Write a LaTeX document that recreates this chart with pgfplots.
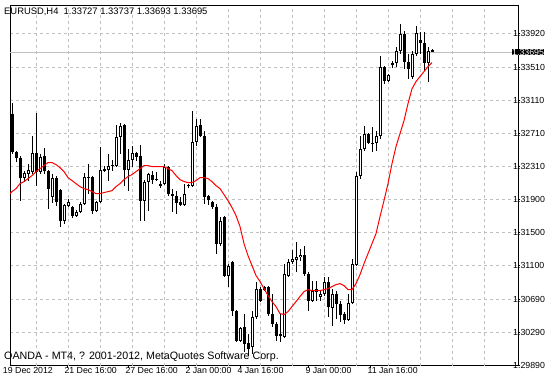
\documentclass[border=0pt]{standalone}
\usepackage{fontspec}
\setmainfont{Liberation Sans}
\usepackage{pgfplots}
\pgfplotsset{compat=1.18}
\usepackage{pgfplotstable}
\definecolor{gridgray}{RGB}{192,192,192}
\newcommand{\axisfont}{\fontsize{8.8bp}{10bp}\selectfont}
\pgfplotstableread{
x o h l c
0 1.32498 1.32571 1.32243 1.32316
1 1.32377 1.33008 1.32365 1.32948
2 1.32948 1.33082 1.32462 1.32486
3 1.32486 1.32498 1.32365 1.32413
4 1.32413 1.32438 1.31891 1.32170
5 1.32170 1.32255 1.32122 1.32231
6 1.32219 1.32340 1.32134 1.32267
7 1.32243 1.32681 1.32219 1.32474
8 1.32474 1.32960 1.32073 1.32243
9 1.32243 1.32462 1.32219 1.32426
10 1.32438 1.32534 1.32219 1.32255
11 1.32255 1.32267 1.31793 1.32036
12 1.31940 1.32219 1.31867 1.32170
13 1.32170 1.32195 1.31830 1.31879
14 1.32024 1.32036 1.31575 1.31648
15 1.31648 1.31854 1.31611 1.31842
16 1.31830 1.31915 1.31818 1.31879
17 1.31818 1.31830 1.31684 1.31709
18 1.31709 1.31781 1.31697 1.31757
19 1.31757 1.31879 1.31745 1.31854
20 1.31854 1.32231 1.31842 1.32183
21 1.32170 1.32340 1.31976 1.32183
22 1.32183 1.32195 1.31733 1.31769
23 1.31769 1.31891 1.31757 1.31879
24 1.31879 1.32547 1.31867 1.32267
25 1.32255 1.32316 1.32243 1.32279
26 1.32267 1.32462 1.32134 1.32316
27 1.32316 1.32389 1.32255 1.32328
28 1.32316 1.32814 1.32304 1.32669
29 1.32669 1.32839 1.32462 1.32802
30 1.32814 1.32826 1.32073 1.32267
31 1.32267 1.32522 1.32012 1.32389
32 1.32389 1.32559 1.32304 1.32474
33 1.32474 1.32486 1.32377 1.32426
34 1.32438 1.32571 1.31648 1.31891
35 1.31891 1.32146 1.31648 1.32122
36 1.32122 1.32231 1.31769 1.32219
37 1.32207 1.32255 1.32097 1.32146
38 1.32158 1.32243 1.32134 1.32146
39 1.32073 1.32134 1.32049 1.32097
40 1.32097 1.32340 1.32085 1.32304
41 1.32304 1.32316 1.31952 1.31976
42 1.31976 1.32036 1.31757 1.31952
43 1.31952 1.32012 1.31733 1.31867
44 1.31879 1.31940 1.31830 1.31842
45 1.31842 1.32097 1.31830 1.31976
46 1.32085 1.32097 1.32049 1.32073
47 1.32073 1.32984 1.32061 1.32608
48 1.32608 1.32887 1.32559 1.32802
49 1.32814 1.32887 1.32669 1.32681
50 1.32681 1.32741 1.31854 1.31940
51 1.31952 1.31964 1.31842 1.31903
52 1.31879 1.31891 1.31793 1.31818
53 1.31818 1.31854 1.31247 1.31368
54 1.31368 1.31697 1.31344 1.31648
55 1.31697 1.31709 1.30968 1.30980
56 1.30980 1.31125 1.30846 1.31101
57 1.31150 1.31162 1.30494 1.30554
58 1.30554 1.30566 1.30178 1.30190
59 1.30190 1.30360 1.30178 1.30347
60 1.30360 1.30518 1.30056 1.30153
61 1.30166 1.30275 1.30008 1.30092
62 1.30117 1.30554 1.30032 1.30482
63 1.30482 1.30907 1.30457 1.30821
64 1.30821 1.30846 1.30664 1.30676
65 1.30846 1.30858 1.30797 1.30809
66 1.30846 1.30858 1.30494 1.30518
67 1.30518 1.30761 1.30360 1.30396
68 1.30396 1.30420 1.30190 1.30251
69 1.30251 1.30518 1.30178 1.30275
70 1.30239 1.31125 1.30227 1.31004
71 1.30980 1.31186 1.30968 1.31150
72 1.31150 1.31295 1.31125 1.31186
73 1.31174 1.31393 1.31028 1.31210
74 1.31210 1.31307 1.31162 1.31235
75 1.31235 1.31344 1.30980 1.31004
76 1.31004 1.31028 1.30554 1.30676
77 1.30676 1.30918 1.30664 1.30797
78 1.30821 1.30918 1.30676 1.30785
79 1.30725 1.30809 1.30676 1.30761
80 1.30761 1.30968 1.30737 1.30907
81 1.30907 1.30968 1.30482 1.30603
82 1.30591 1.30821 1.30372 1.30761
83 1.30761 1.30797 1.30457 1.30639
84 1.30639 1.30676 1.30420 1.30506
85 1.30518 1.30542 1.30396 1.30445
86 1.30445 1.30761 1.30433 1.30651
87 1.30651 1.31186 1.30639 1.31125
88 1.31113 1.32243 1.31101 1.32195
89 1.32195 1.32681 1.32158 1.32522
90 1.32522 1.32802 1.32498 1.32705
91 1.32705 1.32717 1.32583 1.32595
92 1.32595 1.32790 1.32486 1.32583
93 1.32595 1.32741 1.32498 1.32681
94 1.32681 1.33653 1.32644 1.33519
95 1.33519 1.33531 1.33312 1.33349
96 1.33349 1.33434 1.33337 1.33422
97 1.33568 1.33592 1.33506 1.33543
98 1.33568 1.33762 1.33519 1.33713
99 1.33713 1.34041 1.33677 1.33920
100 1.33920 1.33956 1.33494 1.33580
101 1.33580 1.33677 1.33373 1.33494
102 1.33398 1.33713 1.33373 1.33677
103 1.33677 1.34017 1.33653 1.33932
104 1.33847 1.33944 1.33677 1.33810
105 1.33810 1.33944 1.33470 1.33568
106 1.33568 1.33762 1.33337 1.33713
107 1.33727 1.33737 1.33693 1.33695
}\candles
\pgfplotstableread{
x ma
0 1.31879
1 1.31952
2 1.32000
3 1.32036
4 1.32097
5 1.32122
6 1.32158
7 1.32195
8 1.32243
9 1.32279
10 1.32316
11 1.32353
12 1.32353
13 1.32328
14 1.32291
15 1.32243
16 1.32170
17 1.32134
18 1.32097
19 1.32061
20 1.32036
21 1.32024
22 1.32000
23 1.31976
24 1.31976
25 1.31988
26 1.32000
27 1.32012
28 1.32061
29 1.32097
30 1.32146
31 1.32183
32 1.32207
33 1.32243
34 1.32279
35 1.32316
36 1.32316
37 1.32304
38 1.32304
39 1.32304
40 1.32304
41 1.32279
42 1.32255
43 1.32195
44 1.32146
45 1.32122
46 1.32110
47 1.32110
48 1.32134
49 1.32170
50 1.32170
51 1.32158
52 1.32122
53 1.32073
54 1.32036
55 1.31964
56 1.31891
57 1.31806
58 1.31709
59 1.31575
60 1.31368
61 1.31222
62 1.31101
63 1.30980
64 1.30907
65 1.30821
66 1.30737
67 1.30664
68 1.30603
69 1.30518
70 1.30506
71 1.30542
72 1.30603
73 1.30664
74 1.30725
75 1.30785
76 1.30809
77 1.30797
78 1.30797
79 1.30797
80 1.30809
81 1.30821
82 1.30846
83 1.30870
84 1.30882
85 1.30858
86 1.30809
87 1.30809
88 1.30882
89 1.30992
90 1.31125
91 1.31247
92 1.31368
93 1.31490
94 1.31697
95 1.31891
96 1.32097
97 1.32340
98 1.32547
99 1.32705
100 1.32863
101 1.33069
102 1.33251
103 1.33337
104 1.33398
105 1.33458
106 1.33519
107 1.33568
}\matable
\begin{document}
\begin{tikzpicture}[x=1bp,y=1bp]
\path[use as bounding box] (0,0) rectangle (551,380);
\begin{axis}[
  at={(2.5,17.5)}, anchor=south west,
  scale only axis, width=508bp, height=360bp,
  xmin=1.5, xmax=128.5, ymin=1.29886, ymax=1.34260,
  axis line style={black, line width=1bp},
  xtick={15.75,31,46,59,76,91.5},
  xticklabels={21 Dec 16:00,27 Dec 16:00,2 Jan 00:00,4 Jan 16:00,9 Jan 00:00,11 Jan 16:00},
  xtick pos=bottom,
  xticklabel style={anchor=north west, inner sep=0pt, xshift=-2.7bp, font=\axisfont},
  extra x ticks={8,16,...,120}, extra x tick labels={},
  extra x tick style={grid=major, major tick length=0pt},
  ytick={1.29890,1.30290,1.30690,1.31100,1.31500,1.31900,1.32310,1.32710,1.33110,1.33510,1.33920},
  ymajorgrids, ytick pos=right, yticklabel pos=right,
  tick align=outside, major tick length=2bp,
  tick style={black, line width=1bp},
  grid style={gridgray, line width=1bp, dash pattern=on 3bp off 3bp},
  scaled y ticks=false,
  yticklabel style={anchor=west, inner sep=0pt, xshift=-7bp, font=\axisfont,
    /pgf/number format/.cd, fixed, fixed zerofill, precision=5, assume math mode=true},
  extra y ticks={1.33695},
  extra y tick style={grid=major, major grid style={solid, gridgray, line width=1bp},
    tick label style={fill=black, text=white, inner xsep=2.5bp, inner ysep=3bp, xshift=-1bp}},
]
% wicks
\addplot[forget plot, black, line width=1bp,
  quiver={u=0, v=\thisrow{h}-\thisrow{l}}]
  table[x=x, y=l] {\candles};
% bodies
\addplot[forget plot, black, line width=3bp,
  quiver={u=0, v={2*max(abs(\thisrow{c}-\thisrow{o})/2,0.00006)}}]
  table[x=x, y expr={(\thisrow{o}+\thisrow{c})/2-max(abs(\thisrow{c}-\thisrow{o})/2,0.00006)}] {\candles};
% bull interiors
\addplot[forget plot, white, line width=1bp,
  quiver={u=0, v={max(\thisrow{c}-\thisrow{o}-0.00024,0)}}]
  table[x=x, y expr={\thisrow{o}+0.00012}] {\candles};
% moving average
\addplot[red, line width=1bp, mark=none] table[x=x, y=ma] {\matable};
\end{axis}
\node[anchor=north west, inner sep=0pt, font=\axisfont] at (2.8,12.8) {19 Dec 2012};
\node[anchor=base west, inner sep=0pt, font=\fontsize{9.4bp}{11bp}\selectfont] at (4,365.3) {EURUSD,H4\ \ 1.33727 1.33737 1.33693 1.33695};
\node[anchor=base west, inner sep=0pt, font=\fontsize{10.7bp}{12bp}\selectfont] at (4,20.7) {OANDA - MT4, ? 2001-2012, MetaQuotes Software Corp.};
\end{tikzpicture}
\end{document}
